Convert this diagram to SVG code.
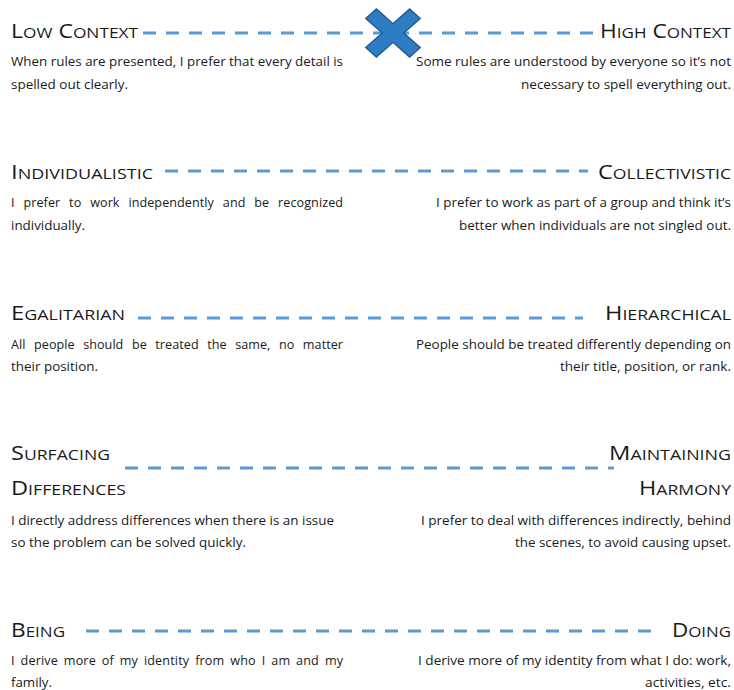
<svg xmlns="http://www.w3.org/2000/svg" width="734" height="690" viewBox="0 0 734 690">
<style>
.h{font-family:"Open Sans","Liberation Sans",sans-serif;font-size:20px;fill:#1a1a1a}
.h tspan.s{font-size:15px}
.d{font-family:"Open Sans","Liberation Sans",sans-serif;font-size:12.6px;fill:#1a1a1a}
.r{text-anchor:end}
.ln{stroke:#5B9BD5;stroke-width:3;stroke-dasharray:13 10;fill:none}
</style>
<rect width="734" height="690" fill="#ffffff"/>
<g id="connectors">
<line class="ln" x1="143" y1="33" x2="596" y2="33"/>
<line class="ln" x1="165" y1="171" x2="588" y2="171"/>
<line class="ln" x1="138" y1="318" x2="583" y2="318"/>
<line class="ln" x1="125" y1="468" x2="614" y2="468"/>
<line class="ln" x1="86" y1="631" x2="661" y2="631"/>
</g>
<g id="marker">
<g transform="translate(393,33) scale(1,0.88) rotate(45)">
<path d="M-7.5,-31 h15 v23.5 h23.5 v15 h-23.5 v23.5 h-15 v-23.5 h-23.5 v-15 h23.5 z" fill="#2E7CC3" stroke="#1F5B91" stroke-width="1.5" stroke-linejoin="miter"/>
</g>
</g>
<g id="low-context">
<text class="h" x="11" y="38" textLength="127" lengthAdjust="spacingAndGlyphs">L<tspan class="s">OW</tspan> C<tspan class="s">ONTEXT</tspan></text>
<text class="d" x="11" y="66" textLength="332" lengthAdjust="spacingAndGlyphs">When rules are presented, I prefer that every detail is</text>
<text class="d" x="11" y="89" textLength="117" lengthAdjust="spacingAndGlyphs">spelled out clearly.</text>
</g>
<g id="high-context">
<text class="h r" x="731" y="38" textLength="131" lengthAdjust="spacingAndGlyphs">H<tspan class="s">IGH</tspan> C<tspan class="s">ONTEXT</tspan></text>
<text class="d r" x="731" y="66" textLength="315" lengthAdjust="spacingAndGlyphs">Some rules are understood by everyone so it’s not</text>
<text class="d r" x="731" y="89" textLength="210" lengthAdjust="spacingAndGlyphs">necessary to spell everything out.</text>
</g>
<g id="individualistic">
<text class="h" x="11" y="179" textLength="142" lengthAdjust="spacingAndGlyphs">I<tspan class="s">NDIVIDUALISTIC</tspan></text>
<text class="d" x="11" y="207" word-spacing="5.5" textLength="332">I prefer to work independently and be recognized</text>
<text class="d" x="11" y="230" textLength="74" lengthAdjust="spacingAndGlyphs">individually.</text>
</g>
<g id="collectivistic">
<text class="h r" x="731" y="179" textLength="133" lengthAdjust="spacingAndGlyphs">C<tspan class="s">OLLECTIVISTIC</tspan></text>
<text class="d r" x="731" y="207" textLength="295" lengthAdjust="spacingAndGlyphs">I prefer to work as part of a group and think it’s</text>
<text class="d r" x="731" y="230" textLength="272" lengthAdjust="spacingAndGlyphs">better when individuals are not singled out.</text>
</g>
<g id="egalitarian">
<text class="h" x="11" y="320" textLength="114" lengthAdjust="spacingAndGlyphs">E<tspan class="s">GALITARIAN</tspan></text>
<text class="d" x="11" y="349" word-spacing="5.2" textLength="332">All people should be treated the same, no matter</text>
<text class="d" x="11" y="371" textLength="87" lengthAdjust="spacingAndGlyphs">their position.</text>
</g>
<g id="hierarchical">
<text class="h r" x="731" y="320" textLength="126" lengthAdjust="spacingAndGlyphs">H<tspan class="s">IERARCHICAL</tspan></text>
<text class="d r" x="731" y="349" textLength="315" lengthAdjust="spacingAndGlyphs">People should be treated differently depending on</text>
<text class="d r" x="731" y="371" textLength="171" lengthAdjust="spacingAndGlyphs">their title, position, or rank.</text>
</g>
<g id="surfacing-differences">
<text class="h" x="11" y="460" textLength="99" lengthAdjust="spacingAndGlyphs">S<tspan class="s">URFACING</tspan></text>
<text class="h" x="11" y="495" textLength="115" lengthAdjust="spacingAndGlyphs">D<tspan class="s">IFFERENCES</tspan></text>
<text class="d" x="11" y="525" textLength="323" lengthAdjust="spacingAndGlyphs">I directly address differences when there is an issue</text>
<text class="d" x="11" y="547" textLength="235" lengthAdjust="spacingAndGlyphs">so the problem can be solved quickly.</text>
</g>
<g id="maintaining-harmony">
<text class="h r" x="731" y="460" textLength="122" lengthAdjust="spacingAndGlyphs">M<tspan class="s">AINTAINING</tspan></text>
<text class="h r" x="731" y="495" textLength="92" lengthAdjust="spacingAndGlyphs">H<tspan class="s">ARMONY</tspan></text>
<text class="d r" x="731" y="525" textLength="310" lengthAdjust="spacingAndGlyphs">I prefer to deal with differences indirectly, behind</text>
<text class="d r" x="731" y="547" textLength="216" lengthAdjust="spacingAndGlyphs">the scenes, to avoid causing upset.</text>
</g>
<g id="being">
<text class="h" x="11" y="637" textLength="54" lengthAdjust="spacingAndGlyphs">B<tspan class="s">EING</tspan></text>
<text class="d" x="11" y="665" word-spacing="2.5" textLength="332">I derive more of my identity from who I am and my</text>
<text class="d" x="11" y="687" textLength="41" lengthAdjust="spacingAndGlyphs">family.</text>
</g>
<g id="doing">
<text class="h r" x="731" y="637" textLength="59" lengthAdjust="spacingAndGlyphs">D<tspan class="s">OING</tspan></text>
<text class="d r" x="731" y="665" textLength="313" lengthAdjust="spacingAndGlyphs">I derive more of my identity from what I do: work,</text>
<text class="d r" x="731" y="687" textLength="86" lengthAdjust="spacingAndGlyphs">activities, etc.</text>
</g>
</svg>
